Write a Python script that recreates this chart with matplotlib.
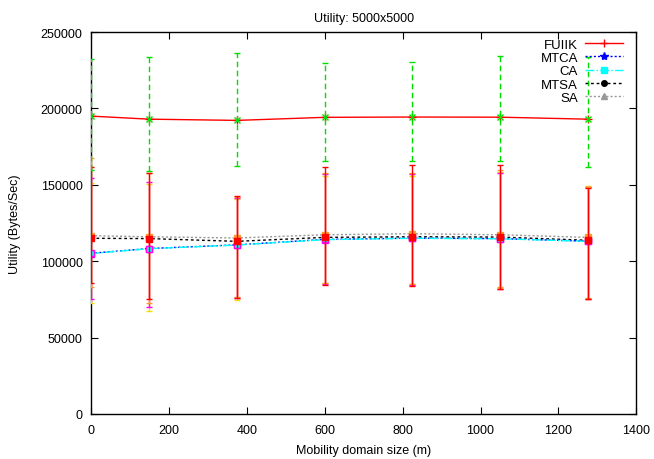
import matplotlib
matplotlib.use("Agg")
from matplotlib import pyplot as plt
from matplotlib.lines import Line2D

plt.rcParams['font.family'] = ['Liberation Sans', 'DejaVu Sans']
plt.rcParams['font.size'] = 9

# Tamaño del dominio de movilidad (m)
x = [0, 150, 375, 600, 825, 1050, 1275]

# FUIIK con su intervalo
fuiik = [195000, 193000, 192200, 194200, 194400, 194300, 193000]
fuiik_lo = [160000, 159000, 162300, 165600, 165800, 165400, 161600]
fuiik_hi = [232700, 233400, 236500, 229700, 230400, 234300, 233600]

# Resto de algoritmos
mtca = [105200, 108300, 110700, 114300, 115100, 114800, 113100]
ca = [105000, 108200, 110600, 114100, 115000, 114700, 113000]
mtsa = [115000, 114800, 113000, 115600, 116000, 115800, 113700]
sa = [116700, 116000, 115200, 117300, 118000, 117300, 115600]

# Intervalos de los algoritmos inferiores
mtsa_lo = [85700, 75300, 75900, 84600, 84000, 81600, 75000]
mtsa_hi = [161800, 158000, 142900, 161400, 162700, 162700, 147700]
sa_lo = [83100, 72400, 76500, 85500, 85000, 83000, 76000]
sa_hi = [167300, 157500, 142000, 157700, 157700, 159900, 148500]
ca_lo = [72600, 67600, 74800, 85500, 85000, 82500, 75500]
ca_hi = [151000, 150500, 141000, 156000, 156000, 158500, 149400]
mtca_lo = [75000, 70000, 76000, 85000, 84500, 82000, 75500]
mtca_hi = [154500, 152000, 141500, 157000, 157000, 158000, 148500]

fig = plt.figure(figsize=(6.54, 4.60), dpi=100)
ax = fig.add_axes([0.139, 0.098, 0.834, 0.830])


def barras(y, lo, hi, color, marker, ls='-', mfc=None, mec=None, z=3):
    err = [[v - l for v, l in zip(y, lo)], [h - v for v, h in zip(y, hi)]]
    _, caps, cols = ax.errorbar(x, y, yerr=err, fmt=marker, color=color,
                                ecolor=color, elinewidth=1, capsize=2.5,
                                markersize=5, mfc=mfc or color,
                                mec=mec or color, zorder=z)
    cols[0].set_linestyle(ls)


# Lineas de cada serie
ax.plot(x, sa, color='#999999', ls=(0, (1.5, 1.5)), lw=1, marker='^',
        ms=4, zorder=2)
ax.plot(x, mtsa, color='black', ls=(0, (2, 2)), lw=1, marker='o',
        ms=4, zorder=2)
ax.plot(x, mtca, color='blue', ls=(0, (1.5, 1.5)), lw=1, marker='*',
        ms=5, zorder=2)
ax.plot(x, ca, color='cyan', ls='-.', lw=1, zorder=2)

# Barras de error
barras(ca, ca_lo, ca_hi, '#f0e000', 's', mfc='cyan', mec='magenta', z=3)
barras(mtca, mtca_lo, mtca_hi, 'magenta', 's', mfc='cyan', mec='magenta', z=3)
barras(sa, sa_lo, sa_hi, '#ff9a30', 's', z=3)
barras(mtsa, mtsa_lo, mtsa_hi, 'red', 's', z=4)
barras(fuiik, fuiik_lo, fuiik_hi, '#00e000', 'x', ls=(0, (4, 2.5)), z=4)
ax.plot(x, fuiik, color='red', lw=1, marker='+', ms=6, zorder=3)

ax.set_xlim(0, 1400)
ax.set_ylim(0, 250000)
ax.set_xticks(range(0, 1401, 200))
ax.set_yticks(range(0, 250001, 50000))
ax.tick_params(direction='in', length=5, top=True, right=True, pad=6)
ax.tick_params(axis='x', pad=7)
for s in ax.spines.values():
    s.set_linewidth(1)

ax.set_title("Utility: 5000x5000", fontsize=9, pad=8)
ax.set_xlabel("Mobility domain size (m)", labelpad=6)
ax.set_ylabel("Utility (Bytes/Sec)", labelpad=14)

# Leyenda estilo gnuplot
handles = [
    Line2D([], [], color='red', lw=1, marker='+', ms=6),
    Line2D([], [], color='blue', ls=(0, (1.5, 1.5)), lw=1, marker='*', ms=6),
    Line2D([], [], color='cyan', ls='-.', lw=1, marker='s', ms=5),
    Line2D([], [], color='black', ls=(0, (2, 2)), lw=1, marker='o', ms=4),
    Line2D([], [], color='#999999', ls=(0, (1.5, 1.5)), lw=1, marker='^', ms=4),
]
leg = ax.legend(handles, ['FUIIK', 'MTCA', 'CA', 'MTSA', 'SA'],
                loc='upper right', bbox_to_anchor=(0.98, 0.99), frameon=False,
                markerfirst=False, handlelength=2.9, labelspacing=0.08,
                handletextpad=0.5, borderaxespad=0.0, borderpad=0.2,
                fontsize=9.5)
for t in leg.get_texts():
    t.set_ha('right')

fig.savefig('out.png', dpi=100)
